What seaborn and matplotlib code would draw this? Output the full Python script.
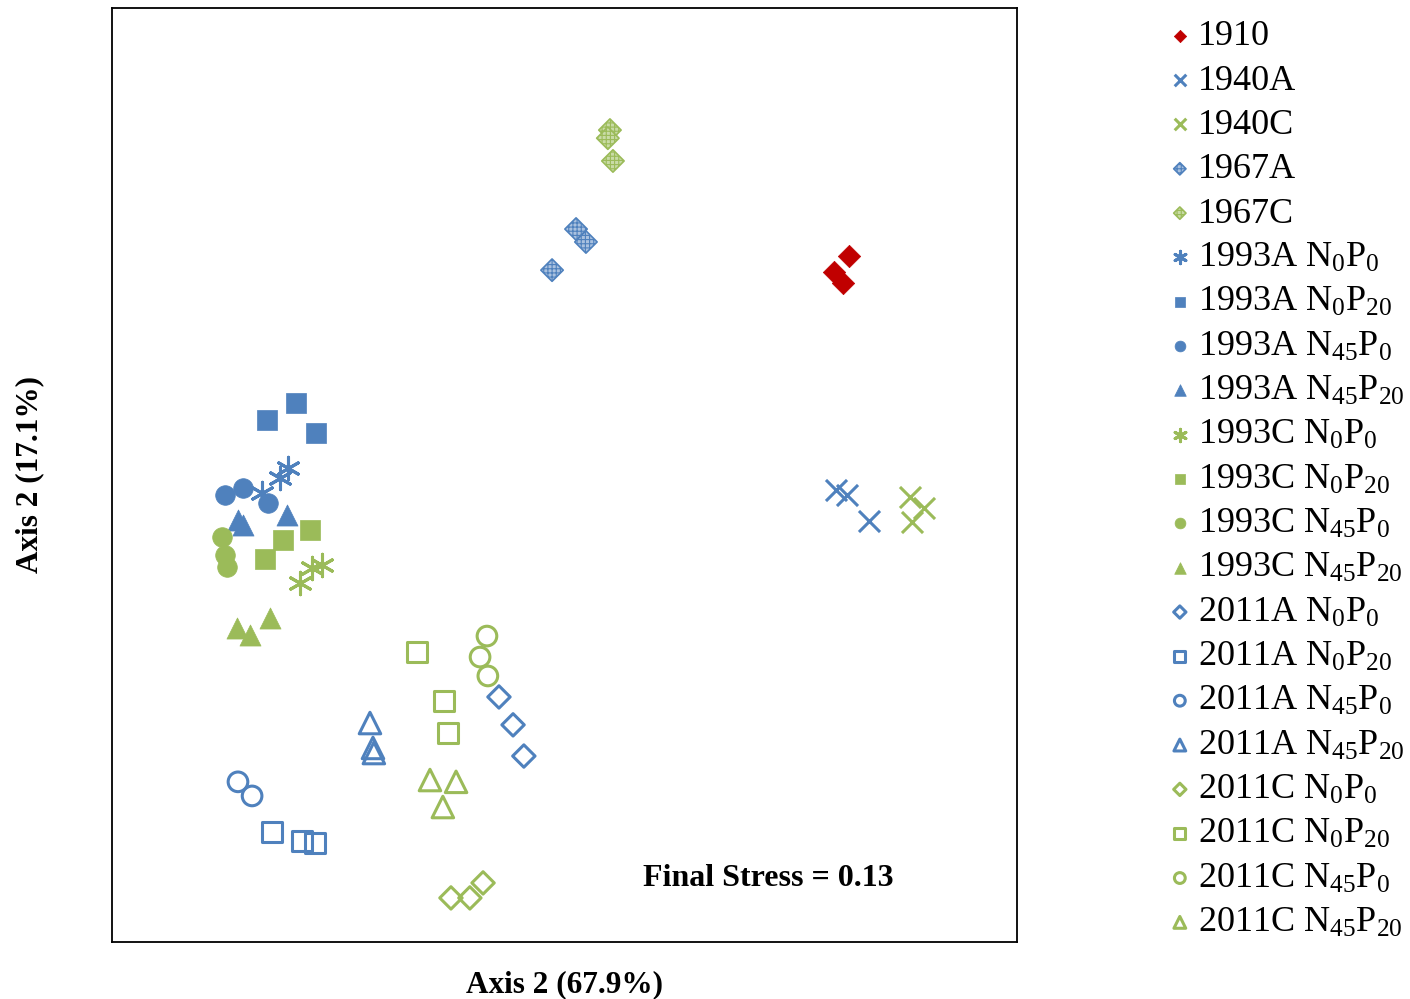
import matplotlib
matplotlib.use("Agg")
import matplotlib.pyplot as plt
import seaborn as sns
import pandas as pd

sns.set_style("white")
plt.rcParams['font.family'] = ['Liberation Serif', 'DejaVu Serif']
plt.rcParams['mathtext.fontset'] = 'custom'
plt.rcParams['mathtext.rm'] = 'Liberation Serif'
plt.rcParams['hatch.linewidth'] = 0.8
plt.rcParams['text.color'] = 'black'
plt.rcParams['axes.labelcolor'] = 'black'

BLUE = '#4F81BD'
GREEN = '#9BBB59'
RED = '#C00000'

# ---- data (NMDS scores, estimated from the figure) ----
x_1910 = [0.947, 0.897, 0.927]
y_1910 = [0.730, 0.677, 0.640]
x_1940A = [0.903, 0.940, 1.013]
y_1940A = [-0.050, -0.067, -0.153]
x_1940C = [1.150, 1.197, 1.157]
y_1940C = [-0.073, -0.110, -0.157]
x_1967A = [0.037, 0.070, -0.043]
y_1967A = [0.820, 0.777, 0.683]
x_1967C = [0.150, 0.143, 0.160]
y_1967C = [1.150, 1.123, 1.047]
x_93A_N0P0 = [-0.923, -0.950, -1.010]
y_93A_N0P0 = [0.023, -0.010, -0.060]
x_93A_N0P20 = [-0.993, -0.897, -0.830]
y_93A_N0P20 = [0.183, 0.240, 0.140]
x_93A_N45P0 = [-1.133, -1.073, -0.990]
y_93A_N45P0 = [-0.067, -0.043, -0.093]
x_93A_N45P20 = [-1.090, -1.073, -0.927]
y_93A_N45P20 = [-0.150, -0.167, -0.133]
x_93C_N0P0 = [-0.810, -0.843, -0.883]
y_93C_N0P0 = [-0.300, -0.310, -0.360]
x_93C_N0P20 = [-0.850, -0.940, -1.000]
y_93C_N0P20 = [-0.183, -0.217, -0.280]
x_93C_N45P0 = [-1.143, -1.133, -1.127]
y_93C_N45P0 = [-0.207, -0.267, -0.307]
x_93C_N45P20 = [-0.983, -1.093, -1.050]
y_93C_N45P20 = [-0.477, -0.510, -0.533]
x_11A_N0P0 = [-0.220, -0.173, -0.137]
y_11A_N0P0 = [-0.740, -0.833, -0.937]
x_11A_N0P20 = [-0.977, -0.877, -0.833]
y_11A_N0P20 = [-1.190, -1.220, -1.227]
x_11A_N45P0 = [-1.090, -1.043]
y_11A_N45P0 = [-1.023, -1.070]
x_11A_N45P20 = [-0.650, -0.640, -0.637]
y_11A_N45P20 = [-0.827, -0.910, -0.927]
x_11C_N0P0 = [-0.273, -0.317, -0.380]
y_11C_N0P0 = [-1.360, -1.410, -1.410]
x_11C_N0P20 = [-0.493, -0.403, -0.390]
y_11C_N0P20 = [-0.590, -0.753, -0.860]
x_11C_N45P0 = [-0.260, -0.283, -0.257]
y_11C_N45P0 = [-0.537, -0.607, -0.670]
x_11C_N45P20 = [-0.450, -0.363, -0.407]
y_11C_N45P20 = [-1.017, -1.023, -1.107]

labels = ['1910', '1940A', '1940C', '1967A', '1967C',
          r'1993A $\mathregular{N_{0}P_{0}}$', r'1993A $\mathregular{N_{0}P_{20}}$',
          r'1993A $\mathregular{N_{45}P_{0}}$', r'1993A $\mathregular{N_{45}P_{20}}$',
          r'1993C $\mathregular{N_{0}P_{0}}$', r'1993C $\mathregular{N_{0}P_{20}}$',
          r'1993C $\mathregular{N_{45}P_{0}}$', r'1993C $\mathregular{N_{45}P_{20}}$',
          r'2011A $\mathregular{N_{0}P_{0}}$', r'2011A $\mathregular{N_{0}P_{20}}$',
          r'2011A $\mathregular{N_{45}P_{0}}$', r'2011A $\mathregular{N_{45}P_{20}}$',
          r'2011C $\mathregular{N_{0}P_{0}}$', r'2011C $\mathregular{N_{0}P_{20}}$',
          r'2011C $\mathregular{N_{45}P_{0}}$', r'2011C $\mathregular{N_{45}P_{20}}$']

xs = [x_1910, x_1940A, x_1940C, x_1967A, x_1967C,
      x_93A_N0P0, x_93A_N0P20, x_93A_N45P0, x_93A_N45P20,
      x_93C_N0P0, x_93C_N0P20, x_93C_N45P0, x_93C_N45P20,
      x_11A_N0P0, x_11A_N0P20, x_11A_N45P0, x_11A_N45P20,
      x_11C_N0P0, x_11C_N0P20, x_11C_N45P0, x_11C_N45P20]
ys = [y_1910, y_1940A, y_1940C, y_1967A, y_1967C,
      y_93A_N0P0, y_93A_N0P20, y_93A_N45P0, y_93A_N45P20,
      y_93C_N0P0, y_93C_N0P20, y_93C_N45P0, y_93C_N45P20,
      y_11A_N0P0, y_11A_N0P20, y_11A_N45P0, y_11A_N45P20,
      y_11C_N0P0, y_11C_N0P20, y_11C_N45P0, y_11C_N45P20]

ASTER = (6, 2, 0)
# style per group: (color, marker, fill mode, size)
styles = [
    (RED, 'D', True, 130),
    (BLUE, 'x', True, 230),
    (GREEN, 'x', True, 230),
    (BLUE, 'D', 'hatch', 130),
    (GREEN, 'D', 'hatch', 130),
    (BLUE, ASTER, True, 260),
    (BLUE, 's', True, 190),
    (BLUE, 'o', True, 200),
    (BLUE, '^', True, 230),
    (GREEN, ASTER, True, 260),
    (GREEN, 's', True, 190),
    (GREEN, 'o', True, 200),
    (GREEN, '^', True, 230),
    (BLUE, 'D', False, 130),
    (BLUE, 's', False, 200),
    (BLUE, 'o', False, 200),
    (BLUE, '^', False, 240),
    (GREEN, 'D', False, 130),
    (GREEN, 's', False, 200),
    (GREEN, 'o', False, 200),
    (GREEN, '^', False, 240),
]

fig = plt.figure(figsize=(14.10, 9.99), dpi=100)
ax = fig.add_axes([112/1410, 1-942/999, (1017-112)/1410, (942-8)/999])

for lab, xv, yv, (col, mk, filled, sz) in zip(labels, xs, ys, styles):
    df = pd.DataFrame({'x': xv, 'y': yv})
    if mk in ('x', ASTER):
        kw = dict(color=col, linewidth=2.2)
    elif filled == 'hatch':
        light = '#A9C1DF' if col == BLUE else '#C9DBA6'
        kw = dict(facecolor=light, edgecolor=col, linewidth=1.2, hatch='++++')
    elif filled:
        kw = dict(color=col, edgecolor=col, linewidth=0.5)
    else:
        kw = dict(facecolor='none', edgecolor=col, linewidth=2.2)
    sns.scatterplot(data=df, x='x', y='y', marker=mk, s=sz, ax=ax, label=lab,
                    legend=False, **kw)

ax.set_xlim(-1.51, 1.507)
ax.set_ylim(-1.557, 1.557)
ax.set_xticks([])
ax.set_yticks([])
for sp in ax.spines.values():
    sp.set_color('black')
    sp.set_linewidth(1.3)
    sp.set_visible(True)

ax.set_xlabel('Axis 2 (67.9%)', fontsize=22.5, fontweight='bold', labelpad=20)
ax.set_ylabel('Axis 2 (17.1%)', fontsize=22.5, fontweight='bold', labelpad=49)

ax.text(0.587, 0.0685, 'Final Stress = 0.13', transform=ax.transAxes,
        fontsize=23, fontweight='bold', ha='left', va='center')

handles, labs = ax.get_legend_handles_labels()
leg = fig.legend(handles, labs, loc='upper left', bbox_to_anchor=(1169/1410, 1-20/999),
                 frameon=False, fontsize=26, markerscale=0.55, handlelength=0.6,
                 handletextpad=0.2, labelspacing=0.306, borderaxespad=0, borderpad=0)

fig.savefig('out.png', dpi=100)
